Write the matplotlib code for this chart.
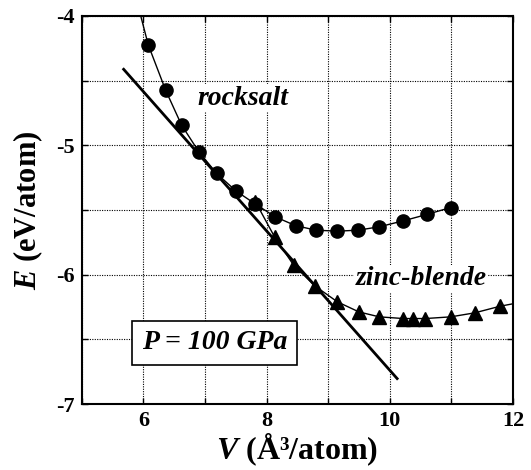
import matplotlib
matplotlib.use("Agg")
import matplotlib.pyplot as plt
from matplotlib.ticker import MultipleLocator

plt.rcParams['font.family'] = ['Liberation Serif', 'DejaVu Serif']
plt.rcParams['axes.unicode_minus'] = False
plt.rcParams['mathtext.fontset'] = 'custom'
plt.rcParams['mathtext.rm'] = 'Liberation Serif:bold'
plt.rcParams['mathtext.it'] = 'Liberation Serif:italic:bold'
plt.rcParams['mathtext.bf'] = 'Liberation Serif:bold'

# rocksalt (circles)
rs_v = [6.08, 6.36, 6.62, 6.90, 7.19, 7.50, 7.82, 8.14, 8.47, 8.80, 9.15, 9.49, 9.83, 10.22, 10.60, 10.99]
rs_e = [-4.224, -4.572, -4.843, -5.049, -5.217, -5.351, -5.454, -5.552, -5.620, -5.655, -5.663, -5.655, -5.629, -5.583, -5.534, -5.480]
# curve continues above the frame before the first point
rs_top_v = [5.93, 6.08]
rs_top_e = [-3.95, -4.224]

# zinc-blende (triangles)
zb_v = [7.82, 8.13, 8.44, 8.79, 9.15, 9.50, 9.83, 10.22, 10.37, 10.58, 10.99, 11.38, 11.79]
zb_e = [-5.436, -5.707, -5.926, -6.088, -6.209, -6.287, -6.325, -6.338, -6.338, -6.338, -6.325, -6.294, -6.243]
zb_end_v = [11.79, 12.1]
zb_end_e = [-6.243, -6.215]

# common tangent
tan_v = [5.68, 10.12]
tan_e = [-4.412, -6.802]

fig = plt.figure(figsize=(5.31, 4.70), dpi=100)
ax = fig.add_axes([0.154, 0.140, 0.812, 0.826])

ax.plot(rs_top_v, rs_top_e, color='black', lw=1.0)
ax.plot(rs_v, rs_e, color='black', lw=1.0, marker='o', ms=9.5)
ax.plot(zb_end_v, zb_end_e, color='black', lw=1.0)
ax.plot(zb_v, zb_e, color='black', lw=1.0, marker='^', ms=9.5)
ax.plot(tan_v, tan_e, color='black', lw=2.0)

ax.set_xlim(5, 12)
ax.set_ylim(-7, -4)
ax.xaxis.set_major_locator(MultipleLocator(2))
ax.xaxis.set_minor_locator(MultipleLocator(1))
ax.yaxis.set_major_locator(MultipleLocator(1))
ax.yaxis.set_minor_locator(MultipleLocator(0.5))
ax.grid(True, which='both', color='black', linestyle=(0, (1, 1.2)), lw=0.8)
ax.tick_params(which='both', direction='in', top=True, right=True, length=4, width=1)
ax.tick_params(which='major', labelsize=16, pad=5)
for lab in ax.get_xticklabels() + ax.get_yticklabels():
    lab.set_fontweight('bold')
for sp in ax.spines.values():
    sp.set_linewidth(1.5)

ax.set_xlabel(r'$\mathit{V}$ (Å³/atom)', fontsize=23, fontweight='bold', labelpad=0)
ax.set_ylabel(r'$\mathit{E}$ (eV/atom)', fontsize=22, fontweight='bold', labelpad=8)

tbox = dict(facecolor='white', edgecolor='none', pad=1)
ax.text(7.62, -4.635, 'rocksalt', fontsize=20, fontweight='bold', style='italic',
        ha='center', va='center', bbox=tbox)
ax.text(10.51, -6.03, 'zinc-blende', fontsize=20, fontweight='bold', style='italic',
        ha='center', va='center', bbox=tbox)
ax.text(7.16, -6.525, 'P = 100 GPa', fontsize=20, fontweight='bold', style='italic',
        ha='center', va='center',
        bbox=dict(facecolor='white', edgecolor='black', lw=1.2, pad=7))

fig.savefig('out.png', dpi=100)
